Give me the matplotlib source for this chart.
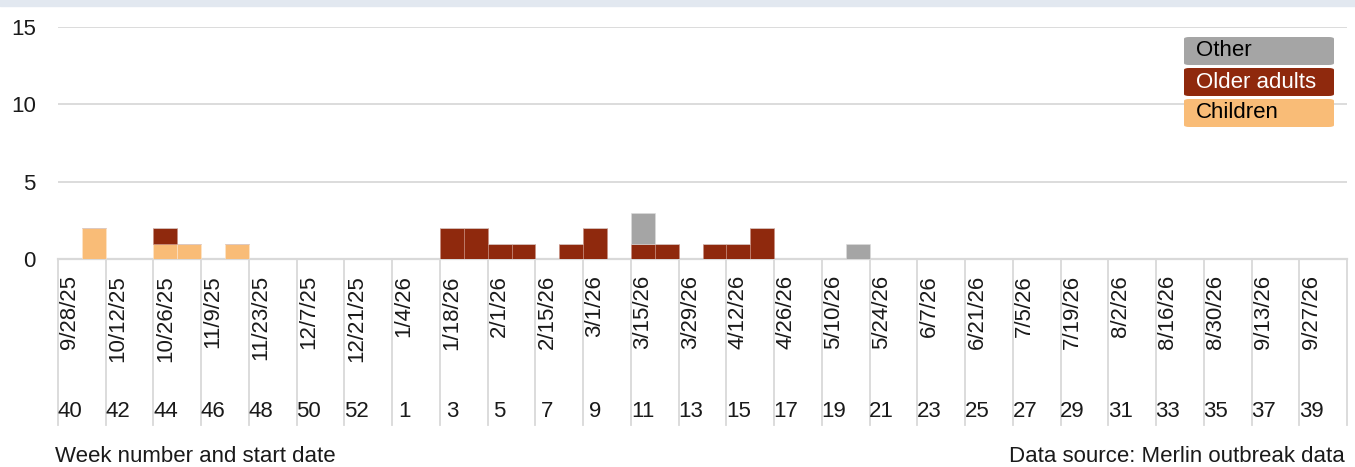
import numpy as np
import matplotlib.pyplot as plt
from matplotlib.patches import Rectangle, FancyBboxPatch

plt.rcParams['font.family'] = ['Liberation Sans', 'DejaVu Sans']

# weeks 40-53 (2025) then 1-40 (2026)
weeks = [40, 41, 42, 43, 44, 45, 46, 47, 48, 49, 50, 51, 52, 53,
         1, 2, 3, 4, 5, 6, 7, 8, 9, 10, 11, 12, 13, 14, 15, 16, 17, 18, 19, 20,
         21, 22, 23, 24, 25, 26, 27, 28, 29, 30, 31, 32, 33, 34, 35, 36, 37, 38, 39, 40]

# start dates shown every second week
date_labels = ['9/28/25', '10/12/25', '10/26/25', '11/9/25', '11/23/25', '12/7/25',
               '12/21/25', '1/4/26', '1/18/26', '2/1/26', '2/15/26', '3/1/26',
               '3/15/26', '3/29/26', '4/12/26', '4/26/26', '5/10/26', '5/24/26',
               '6/7/26', '6/21/26', '7/5/26', '7/19/26', '8/2/26', '8/16/26',
               '8/30/26', '9/13/26', '9/27/26']

children = [0, 2, 0, 0, 1, 1, 0, 1, 0, 0, 0, 0, 0, 0,
            0, 0, 0, 0, 0, 0, 0, 0, 0, 0, 0, 0, 0, 0, 0, 0, 0, 0, 0, 0,
            0, 0, 0, 0, 0, 0, 0, 0, 0, 0, 0, 0, 0, 0, 0, 0, 0, 0, 0, 0]
older = [0, 0, 0, 0, 1, 0, 0, 0, 0, 0, 0, 0, 0, 0,
         0, 0, 2, 2, 1, 1, 0, 1, 2, 0, 1, 1, 0, 1, 1, 2, 0, 0, 0, 0,
         0, 0, 0, 0, 0, 0, 0, 0, 0, 0, 0, 0, 0, 0, 0, 0, 0, 0, 0, 0]
other = [0, 0, 0, 0, 0, 0, 0, 0, 0, 0, 0, 0, 0, 0,
         0, 0, 0, 0, 0, 0, 0, 0, 0, 0, 2, 0, 0, 0, 0, 0, 0, 0, 0, 1,
         0, 0, 0, 0, 0, 0, 0, 0, 0, 0, 0, 0, 0, 0, 0, 0, 0, 0, 0, 0]

c_child = '#f9bc77'
c_old = '#8f290d'
c_other = '#a5a5a5'
grid_c = '#d9d9d9'
fs = 16

W, H = 1355, 467
fig = plt.figure(figsize=(W / 100, H / 100), dpi=100)

# light band at the very top
fig.patches.append(Rectangle((0, 1 - 6 / H), 1, 6 / H, transform=fig.transFigure,
                             color='#e2e8f0', zorder=0))

ax = fig.add_axes([58 / W, (H - 259) / H, 1289 / W, 232 / H])

x = np.arange(len(weeks))
ch = np.array(children)
ol = np.array(older)
ot = np.array(other)
ax.bar(x, ch, width=1, color=c_child, edgecolor='#fde6cc', linewidth=0.4, zorder=3)
ax.bar(x, ol, width=1, bottom=ch, color=c_old, edgecolor='#c98f80', linewidth=0.4, zorder=3)
ax.bar(x, ot, width=1, bottom=ch + ol, color=c_other, edgecolor='#dcdcdc', linewidth=0.4, zorder=3)

ax.set_xlim(-0.5, len(weeks) - 0.5)
ax.set_ylim(0, 15)
ax.set_yticks([0, 5, 10, 15])
ax.tick_params(axis='y', length=0, pad=16, labelsize=fs, labelcolor='#1a1a1a')
for s in ['left', 'right', 'top']:
    ax.spines[s].set_visible(False)
ax.spines['bottom'].set_color(grid_c)
ax.spines['bottom'].set_linewidth(1.6)
ax.yaxis.grid(True, color=grid_c, linewidth=1.3)
ax.set_axisbelow(True)
ax.set_xticks([])

# two-level category axis: separators, dates, week numbers
tr = ax.get_xaxis_transform()
for k in range(0, len(weeks) + 1, 2):
    ax.plot([k - 0.5, k - 0.5], [0, -0.716], transform=tr, color=grid_c,
            linewidth=1.3, clip_on=False)
for j, k in enumerate(range(0, len(weeks), 2)):
    ax.text(k, -0.07, date_labels[j], transform=tr, rotation=90, ha='center',
            va='top', fontsize=fs, color='#1a1a1a')
    ax.text(k, -0.659, str(weeks[k]), transform=tr, ha='center', va='center',
            fontsize=fs, color='#1a1a1a')

fig.text(55 / W, 1 - 457 / H, 'Week number and start date', ha='left', va='center',
         fontsize=fs, color='#1a1a1a')
fig.text(1345 / W, 1 - 457 / H, 'Data source: Merlin outbreak data', ha='right',
         va='center', fontsize=fs, color='#1a1a1a')

# legend as coloured boxes
leg = [('Other', c_other, 'black', 37), ('Older adults', c_old, 'white', 68),
       ('Children', c_child, 'black', 99)]
for name, col, tc, top in leg:
    fig.patches.append(FancyBboxPatch((1184 / W, 1 - (top + 28) / H), 150 / W, 28 / H,
                                      boxstyle='round,pad=0,rounding_size=0.004',
                                      transform=fig.transFigure, facecolor=col,
                                      edgecolor='none', zorder=5))
    fig.text(1196 / W, 1 - (top + 14) / H, name, ha='left', va='center',
             fontsize=fs, color=tc, zorder=6)

fig.savefig('out.png', dpi=100)
